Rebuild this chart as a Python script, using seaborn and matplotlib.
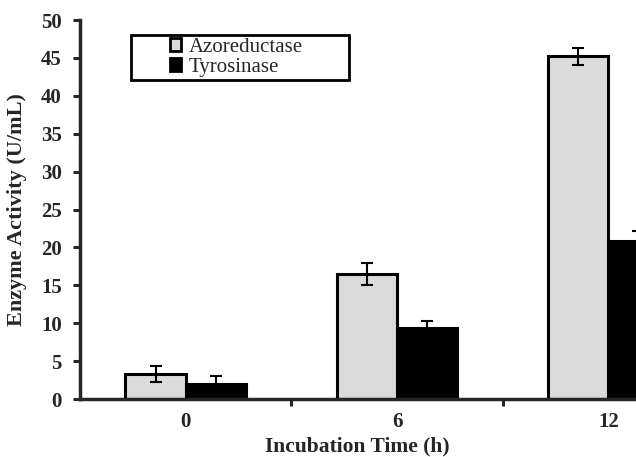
import pandas as pd
import numpy as np
import matplotlib.pyplot as plt
import seaborn as sns
from matplotlib.patches import Rectangle

times = ['0', '6', '12']
enzymes = ['Azoreductase', 'Tyrosinase']
azo_mean = [3.3, 16.5, 45.2]
azo_err = [1.0, 1.5, 1.1]
tyr_mean = [2.0, 9.4, 20.8]
tyr_err = [1.0, 0.9, 1.3]

df = pd.DataFrame({
    'time': times * 2,
    'enzyme': [enzymes[0]] * 3 + [enzymes[1]] * 3,
    'activity': azo_mean + tyr_mean,
    'err': azo_err + tyr_err,
})

sns.set_style('ticks')
plt.rcParams['font.family'] = ['Liberation Serif', 'DejaVu Serif']

fig = plt.figure(figsize=(6.36, 4.57), dpi=100)
ax = fig.add_axes([0.1258, 0.1269, 0.9969, 0.8293])

sns.barplot(data=df, x='time', y='activity', hue='enzyme', order=times,
            hue_order=enzymes, palette=['#dadada', '#000000'], width=0.57,
            gap=0, errorbar=None, edgecolor='black', linewidth=2.2, ax=ax,
            saturation=1)

# error bars at bar centres
for bars, (_, grp) in zip(ax.containers, df.groupby('enzyme', sort=False)):
    xs = [b.get_x() + b.get_width() / 2 for b in bars]
    ax.errorbar(xs, grp['activity'].values, yerr=grp['err'].values, fmt='none',
                ecolor='black', elinewidth=1.5, capsize=4.5, capthick=1.5, zorder=5)

ax.set_xlim(-0.5, 2.5)
ax.set_ylim(0, 50)
ax.set_yticks(range(0, 51, 5))
ax.set_xticks([0, 1, 2])
ax.set_xticks([0.5, 1.5], minor=True)
ax.tick_params(axis='x', which='major', length=0, pad=9)
ax.tick_params(axis='x', which='minor', length=5, width=2.2, direction='out')
ax.tick_params(axis='y', length=5, width=2.2, direction='out', pad=8)
for lab in ax.get_xticklabels() + ax.get_yticklabels():
    lab.set_fontsize(15)
    lab.set_fontweight('bold')

for side in ['top', 'right']:
    ax.spines[side].set_visible(False)
for side in ['left', 'bottom']:
    ax.spines[side].set_linewidth(2.5)

ax.set_ylabel('Enzyme Activity (U/mL)', fontsize=16, fontweight='bold')
ax.yaxis.set_label_coords(-0.084, 0.5)
ax.set_xlabel('Incubation Time (h)', fontsize=15.5, fontweight='bold')
ax.xaxis.set_label_coords(0.437, -0.099)

# legend frame is wider than its content in the original
ax.add_patch(Rectangle((131 / 636, 1 - 80 / 457), 218 / 636, 45 / 457,
                       transform=fig.transFigure, facecolor='white',
                       edgecolor='black', linewidth=2, zorder=6, clip_on=False))
leg = ax.legend(loc='upper left', bbox_to_anchor=(170 / 636, 1 - 38 / 457),
                bbox_transform=fig.transFigure, frameon=False, fontsize=15,
                handlelength=0.55, handleheight=0.55, handletextpad=0.35,
                borderpad=0, labelspacing=0.05, borderaxespad=0)
leg.set_zorder(7)
for h in leg.legend_handles:
    h.set_linewidth(2)

fig.savefig('out.png', dpi=100)
